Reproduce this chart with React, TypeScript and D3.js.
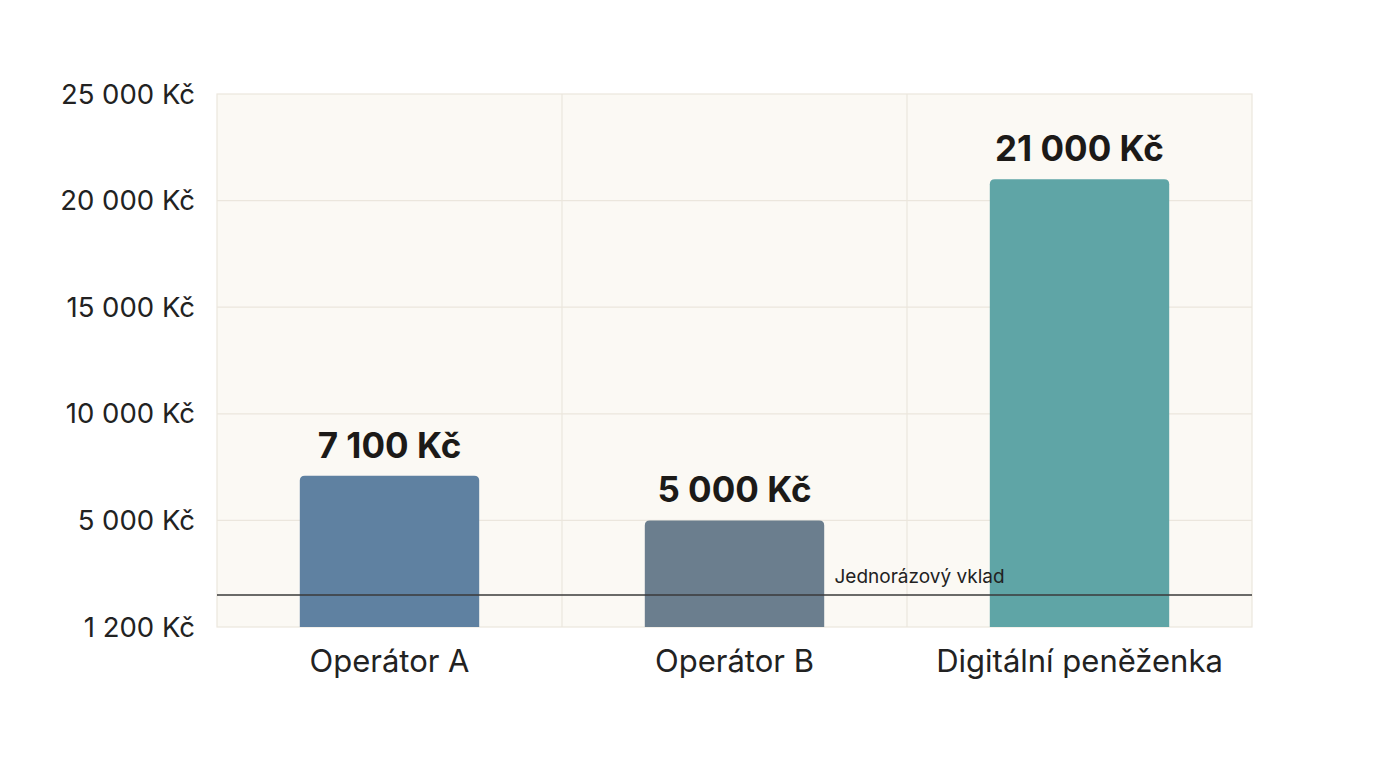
import React, { useEffect, useRef } from 'react';
import * as d3 from 'd3';

const categories = ['Operátor A', 'Operátor B', 'Digitální peněženka'];
const values = [7100, 5000, 21000];
const valueLabels = ['7 100 Kč', '5 000 Kč', '21 000 Kč'];
const barColors = ['#5f81a1', '#6b7e8e', '#5fa5a6'];
const tickValues = [0, 5000, 10000, 15000, 20000, 25000];
const tickLabels = ['1 200 Kč', '5 000 Kč', '10 000 Kč', '15 000 Kč', '20 000 Kč', '25 000 Kč'];
const refValue = 1500;
const refLabel = 'Jednorázový vklad';

const W = 1376;
const H = 768;
const margin = { top: 94, right: 124, bottom: 141, left: 217 };

export default function App() {
  const svgRef = useRef<SVGSVGElement>(null);

  useEffect(() => {
    if (!svgRef.current) return;
    const svg = d3.select(svgRef.current);
    svg.selectAll('*').remove();

    const iw = W - margin.left - margin.right;
    const ih = H - margin.top - margin.bottom;
    const font = 'Inter, "Noto Sans", sans-serif';

    const x = d3.scaleBand<string>().domain(categories).range([0, iw]).padding(0);
    const y = d3.scaleLinear().domain([0, 25000]).range([ih, 0]);

    const g = svg.append('g').attr('transform', `translate(${margin.left},${margin.top})`);

    // plot background
    g.append('rect')
      .attr('width', iw)
      .attr('height', ih)
      .attr('fill', '#fbf9f4')
      .attr('stroke', '#ebe6dd')
      .attr('stroke-width', 1.2);

    // horizontal grid
    g.selectAll('.hgrid')
      .data(tickValues.slice(1, -1))
      .join('line')
      .attr('x1', 0)
      .attr('x2', iw)
      .attr('y1', d => y(d))
      .attr('y2', d => y(d))
      .attr('stroke', '#ebe6dd')
      .attr('stroke-width', 1.2);

    // vertical separators between bands
    g.selectAll('.vgrid')
      .data(categories.slice(1))
      .join('line')
      .attr('x1', d => x(d)!)
      .attr('x2', d => x(d)!)
      .attr('y1', 0)
      .attr('y2', ih)
      .attr('stroke', '#ebe6dd')
      .attr('stroke-width', 1.2);

    // y tick labels
    g.selectAll('.ytick')
      .data(tickValues)
      .join('text')
      .attr('x', -22)
      .attr('y', d => y(d))
      .attr('dy', '0.35em')
      .attr('text-anchor', 'end')
      .attr('font-family', font)
      .attr('font-size', 27.5)
      .attr('fill', '#222')
      .text((d, i) => tickLabels[i]);

    const barW = x.bandwidth() * 0.52;
    const r = 5;

    // bars with rounded top corners
    g.selectAll('.bar')
      .data(values)
      .join('path')
      .attr('fill', (d, i) => barColors[i])
      .attr('d', (d, i) => {
        const x0 = x(categories[i])! + (x.bandwidth() - barW) / 2;
        const y0 = y(d);
        const p = d3.path();
        p.moveTo(x0, ih);
        p.lineTo(x0, y0 + r);
        p.quadraticCurveTo(x0, y0, x0 + r, y0);
        p.lineTo(x0 + barW - r, y0);
        p.quadraticCurveTo(x0 + barW, y0, x0 + barW, y0 + r);
        p.lineTo(x0 + barW, ih);
        p.closePath();
        return p.toString();
      });

    // value labels
    g.selectAll('.vlabel')
      .data(values)
      .join('text')
      .attr('x', (d, i) => x(categories[i])! + x.bandwidth() / 2)
      .attr('y', d => y(d) - 18)
      .attr('text-anchor', 'middle')
      .attr('font-family', font)
      .attr('font-size', 35)
      .attr('font-weight', 700)
      .attr('fill', '#1c1a18')
      .text((d, i) => valueLabels[i]);

    // category labels
    g.selectAll('.xlabel')
      .data(categories)
      .join('text')
      .attr('x', d => x(d)! + x.bandwidth() / 2)
      .attr('y', ih + 45)
      .attr('text-anchor', 'middle')
      .attr('font-family', font)
      .attr('font-size', 31)
      .attr('fill', '#222')
      .text(d => d);

    // reference line
    g.append('line')
      .attr('x1', 0)
      .attr('x2', iw)
      .attr('y1', y(refValue))
      .attr('y2', y(refValue))
      .attr('stroke', '#3a3a3a')
      .attr('stroke-width', 1.4);

    g.append('text')
      .attr('x', x(categories[1])! + x.bandwidth() / 2 + 100)
      .attr('y', y(refValue) - 12)
      .attr('font-family', font)
      .attr('font-size', 19)
      .attr('fill', '#222')
      .text(refLabel);
  }, []);

  return (
    <div style={{ position: 'absolute', left: 0, top: 0, width: W, height: H, background: '#ffffff' }}>
      <svg ref={svgRef} width={W} height={H} />
    </div>
  );
}
